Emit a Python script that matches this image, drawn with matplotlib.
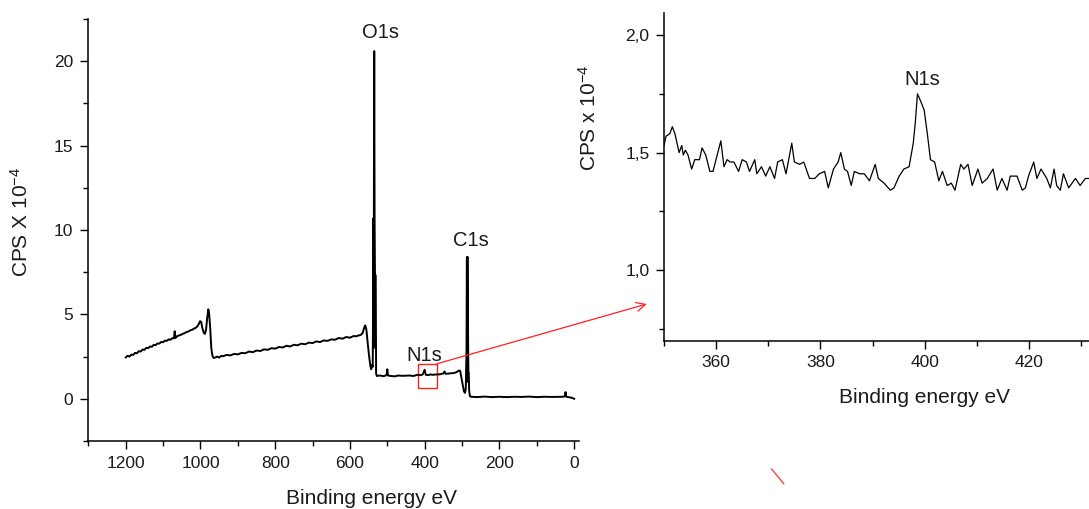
import numpy as np
import matplotlib.pyplot as plt
from matplotlib.patches import Rectangle
from matplotlib.lines import Line2D
from matplotlib.ticker import MultipleLocator

plt.rcParams['font.family'] = ['Liberation Sans', 'DejaVu Sans']
plt.rcParams['mathtext.fontset'] = 'custom'
plt.rcParams['mathtext.rm'] = 'Liberation Sans'
plt.rcParams['mathtext.it'] = 'Liberation Sans'

# survey spectrum (binding energy eV, CPS x 1e-4)
survey_be = [1200, 1195, 1190, 1185, 1180, 1175, 1170, 1165, 1160, 1155, 1150, 1145,
             1140, 1135, 1130, 1125, 1120, 1115, 1110, 1105, 1100, 1095, 1090, 1085,
             1080, 1075, 1071, 1069, 1067, 1063, 1058, 1053, 1048, 1043, 1038, 1033,
             1028, 1023, 1018, 1013, 1008, 1004, 1001, 998, 995, 991, 988, 985, 982,
             979, 977, 974, 971, 968, 965, 960, 955, 950, 945, 940, 930, 920, 910,
             900, 890, 880, 870, 860, 850, 840, 830, 820, 810, 800, 790, 780, 770,
             760, 750, 740, 730, 720, 710, 700, 690, 680, 670, 660, 650, 640, 630,
             620, 610, 600, 590, 585, 575, 570, 566, 562, 559, 556, 552, 548, 545,
             543, 541, 539, 537, 536.5, 536, 535, 534, 533, 531, 530, 528, 520, 510,
             502, 500, 498, 490, 480, 470, 460, 450, 440, 430, 420, 410, 405, 400,
             397, 390, 385, 380, 370, 360, 350, 347, 344, 335, 325, 318, 312, 308,
             305, 302, 298, 295, 292, 290, 288, 287, 286.5, 286, 285, 284, 283, 282,
             281, 279, 275, 260, 240, 220, 200, 180, 160, 140, 120, 100, 80, 60, 40,
             30, 25, 23, 21, 15, 10, 5, 0]
survey_cps = [2.45, 2.55, 2.5, 2.62, 2.6, 2.72, 2.7, 2.82, 2.8, 2.92, 2.9, 3.02,
              3.0, 3.1, 3.08, 3.2, 3.18, 3.28, 3.27, 3.37, 3.35, 3.45, 3.43, 3.52,
              3.5, 3.6, 3.58, 4.0, 3.6, 3.7, 3.75, 3.78, 3.85, 3.88, 3.95, 3.98,
              4.05, 4.08, 4.15, 4.2, 4.3, 4.45, 4.6, 4.55, 4.2, 3.9, 3.85, 4.1, 4.8,
              5.3, 5.1, 4.2, 3.0, 2.55, 2.42, 2.45, 2.5, 2.44, 2.54, 2.52, 2.6, 2.57,
              2.66, 2.63, 2.72, 2.7, 2.8, 2.76, 2.86, 2.83, 2.93, 2.9, 3.0, 2.97, 3.07,
              3.04, 3.14, 3.1, 3.2, 3.17, 3.27, 3.23, 3.33, 3.3, 3.4, 3.36, 3.46, 3.43,
              3.52, 3.5, 3.6, 3.56, 3.66, 3.62, 3.72, 3.7, 3.76, 3.8, 3.9, 4.2,
              4.35, 4.1, 3.2, 2.4, 1.9, 1.75, 2.0, 1.9, 10.7, 3.0, 10.5, 20.6, 10.6,
              7.4, 7.3, 1.5, 1.35, 1.38, 1.34, 1.4, 1.75, 1.38, 1.35, 1.33, 1.38, 1.36,
              1.37, 1.38, 1.35, 1.42, 1.4, 1.45, 1.72, 1.42, 1.4, 1.45, 1.42, 1.44,
              1.45, 1.5, 1.62, 1.48, 1.5, 1.52, 1.55, 1.62, 1.68, 1.65, 1.3, 0.8,
              0.45, 0.35, 0.6, 3.0, 8.4, 1.0, 8.3, 8.4, 4.0, 1.6, 1.55, 0.5, 0.15,
              0.12, 0.1, 0.13, 0.1, 0.12, 0.1, 0.12, 0.11, 0.13, 0.1, 0.12, 0.11, 0.12,
              0.12, 0.15, 0.4, 0.12, 0.1, 0.08, 0.05, 0.0]

# N1s detail
n1s_be = [350.0, 350.4, 351.1, 351.6, 352.1, 352.9, 353.4, 353.7, 354.1, 354.6,
          355.3, 355.9, 356.8, 357.3, 358.0, 358.8, 359.4, 360.2, 360.9, 361.5,
          362.1, 362.7, 363.4, 364.3, 365.0, 365.8, 366.4, 367.4, 367.8, 368.7,
          369.5, 370.3, 371.2, 371.8, 372.7, 373.4, 374.5, 375.0, 376.0, 376.8,
          377.9, 378.9, 379.8, 380.8, 381.5, 382.5, 383.4, 383.9, 384.6, 385.2,
          385.9, 386.5, 387.5, 388.4, 389.4, 390.5, 391.1, 392.2, 393.4, 394.1,
          395.1, 396.0, 397.0, 397.8, 398.2, 398.6, 399.2, 399.9, 400.5, 401.1,
          401.9, 402.7, 403.4, 404.3, 405.1, 405.8, 406.9, 407.5, 408.3, 409.1,
          410.2, 411.0, 412.0, 413.1, 413.9, 414.8, 415.8, 416.4, 417.7, 418.7,
          419.3, 419.9, 420.9, 421.5, 422.3, 423.4, 424.1, 424.8, 425.3, 426.0,
          426.6, 427.6, 428.9, 429.8, 430.8, 431.4]
n1s_cps = [1.53, 1.57, 1.58, 1.61, 1.58, 1.50, 1.53, 1.49, 1.51, 1.49,
           1.43, 1.47, 1.47, 1.52, 1.49, 1.42, 1.42, 1.49, 1.55, 1.44,
           1.47, 1.46, 1.46, 1.42, 1.47, 1.46, 1.42, 1.47, 1.41, 1.44,
           1.40, 1.44, 1.39, 1.46, 1.47, 1.41, 1.54, 1.46, 1.45, 1.46,
           1.39, 1.39, 1.41, 1.42, 1.35, 1.43, 1.46, 1.50, 1.43, 1.42,
           1.36, 1.42, 1.41, 1.41, 1.38, 1.45, 1.39, 1.37, 1.34, 1.35,
           1.40, 1.43, 1.44, 1.54, 1.63, 1.75, 1.72, 1.68, 1.58, 1.47,
           1.46, 1.38, 1.42, 1.36, 1.37, 1.34, 1.45, 1.43, 1.45, 1.36,
           1.43, 1.37, 1.39, 1.43, 1.34, 1.39, 1.34, 1.40, 1.40, 1.34,
           1.35, 1.40, 1.46, 1.39, 1.43, 1.39, 1.35, 1.43, 1.36, 1.34,
           1.41, 1.35, 1.39, 1.36, 1.39, 1.39]

right_yticks = [1.0, 1.5, 2.0]
right_yticklabels = ['1,0', '1,5', '2,0']

W, H = 1089, 509
fig = plt.figure(figsize=(W / 100, H / 100), dpi=100)
ax1 = fig.add_axes([88 / W, 1 - 441 / H, 491 / W, 422 / H])
ax2 = fig.add_axes([664 / W, 1 - 340.7 / H, 425 / W, 328 / H])

txt = '#1a1a1a'
for ax in (ax1, ax2):
    ax.spines['top'].set_visible(False)
    ax.spines['right'].set_visible(False)
    for s in ('left', 'bottom'):
        ax.spines[s].set_linewidth(1.1)
    ax.tick_params(which='major', direction='out', length=6, width=1.0,
                   labelsize=12.5, pad=4.5, colors='black', labelcolor=txt)
    ax.tick_params(which='minor', direction='out', length=3.5, width=1.0)

# survey
ax1.plot(survey_be, survey_cps, color='black', lw=1.4)
ax1.set_xlim(1301, -13)
ax1.set_ylim(-2.5, 22.5)
ax1.set_xticks([1200, 1000, 800, 600, 400, 200, 0])
ax1.set_yticks([0, 5, 10, 15, 20])
ax1.xaxis.set_minor_locator(MultipleLocator(100))
ax1.yaxis.set_minor_locator(MultipleLocator(2.5))
ax1.set_xlabel('Binding energy eV', fontsize=15, color=txt)
ax1.set_ylabel('CPS X 10$^{-4}$', fontsize=15, color=txt)
ax1.xaxis.set_label_coords(0.578, -0.114)
ax1.yaxis.set_label_coords(-0.114, 0.52)
ax1.text(519, 21.38, 'O1s', fontsize=14.5, ha='center', va='baseline', color=txt)
ax1.text(276, 9.05, 'C1s', fontsize=14.5, ha='center', va='baseline', color=txt)
ax1.text(400, 2.25, 'N1s', fontsize=14.5, ha='center', va='baseline', color=txt)
ax1.add_patch(Rectangle((368, 0.62), 49, 1.45, fill=False, edgecolor='#ff2020', lw=1.0))
ax1.annotate('', xy=(646.7 / W, 1 - 304 / H), xycoords='figure fraction',
             xytext=(368, 2.07), textcoords='data',
             arrowprops=dict(arrowstyle='->', color='#ff2020', lw=0.9,
                             mutation_scale=16, shrinkA=0, shrinkB=0))

# N1s detail
ax2.plot(n1s_be, n1s_cps, color='black', lw=0.9)
ax2.set_xlim(350, 431.5)
ax2.set_ylim(0.7, 2.095)
ax2.set_xticks([360, 380, 400, 420])
ax2.set_yticks(right_yticks)
ax2.set_yticklabels(right_yticklabels)
ax2.xaxis.set_minor_locator(MultipleLocator(10))
ax2.yaxis.set_minor_locator(MultipleLocator(0.25))
ax2.set_xlabel('Binding energy eV', fontsize=15, color=txt)
ax2.set_ylabel('CPS x 10$^{-4}$', fontsize=15, color=txt)
ax2.xaxis.set_label_coords(0.614, -0.144)
ax2.yaxis.set_label_coords(-0.151, 0.68)
ax2.text(399.5, 1.788, 'N1s', fontsize=14.5, ha='center', va='baseline', color=txt)

# stray red stroke
fig.add_artist(Line2D([771.7 / W, 783.7 / W], [1 - 469 / H, 1 - 483.7 / H],
                      color='#ff4040', lw=1.0))

fig.savefig('out.png', dpi=100)
